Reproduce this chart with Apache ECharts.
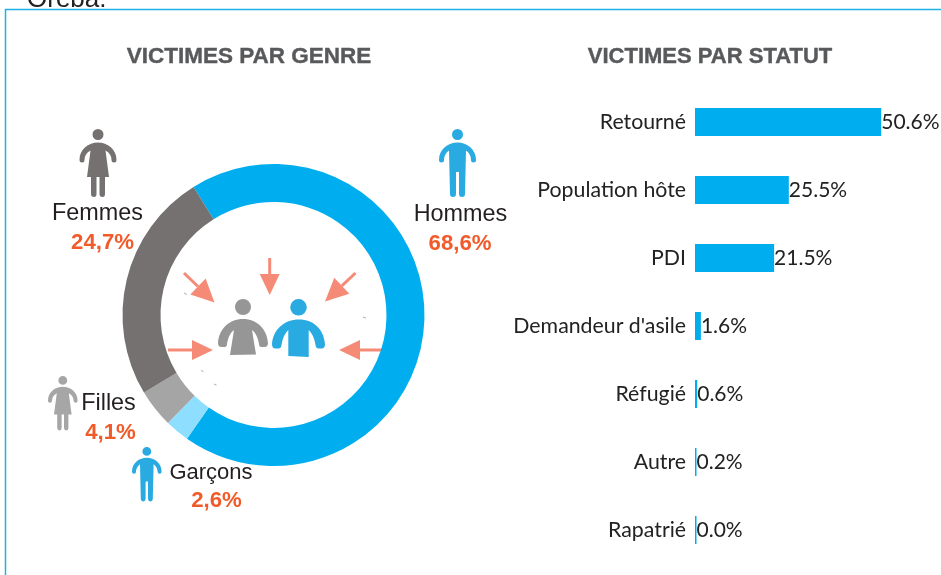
<!DOCTYPE html>
<html>
<head>
<meta charset="utf-8">
<script src="https://cdn.jsdelivr.net/npm/echarts@6/dist/echarts.min.js"></script>
<style>
  html, body { margin: 0; padding: 0; background: #fff; overflow: hidden; }
  #chart { width: 941px; height: 575px; }
</style>
</head>
<body>
<div id="chart"></div>
<script>
// repartition par genre, dans le sens de l'anneau
var genreNames = ['Hommes', 'Garçons', 'Filles', 'Femmes']
var genreValues = [68.6, 2.6, 4.1, 24.7]
var genreColors = ['#00AEEF', '#8EDFFF', '#A5A5A5', '#767171']

// repartition par statut
var statutNames = ['Retourné', 'Population hôte', 'PDI', "Demandeur d'asile", 'Réfugié', 'Autre', 'Rapatrié']
var statutValues = [50.6, 25.5, 21.5, 1.6, 0.6, 0.2, 0.0]

var SANS = '"Liberation Sans", Arial, sans-serif'
var ARROW = '#F58B76'

// pictos : 37x68 pour les petits, 50x56 et 53x58 pour ceux du centre
echarts.graphic.registerShape('manIcon', echarts.graphic.extendPath(
  'M18.5 0A5.5 5.5 0 1 1 18.5 11A5.5 5.5 0 1 1 18.5 0Z' +
  'M0 31C0 20 9 13.5 18.5 13.5C28 13.5 37 20 37 31Q37 33.5 34.5 33.5Q32 33.5 32 31C32 27 30 23.5 27 21.5' +
  'L26 65Q26 68 23 68Q20 68 20 65L20 43L17 43L17 65Q17 68 14 68Q11 68 11 65L10 21.5C7 23.5 5 27 5 31Q5 33.5 2.5 33.5Q0 33.5 0 31Z', {}))
echarts.graphic.registerShape('womanIcon', echarts.graphic.extendPath(
  'M18.5 0A5.5 5.5 0 1 1 18.5 11A5.5 5.5 0 1 1 18.5 0Z' +
  'M0 31C0 20 9 13.5 18.5 13.5C28 13.5 37 20 37 31Q37 33.5 34.5 33.5Q32 33.5 32 31C32 27 30 23.5 26 21.5' +
  'L29.5 48L25.5 48L25.5 65Q25.5 68 23 68Q20 68 20 65L20 48L17 48L17 65Q17 68 14.5 68Q11.5 68 11.5 65L11.5 48L7.5 48L11 21.5C7 23.5 5 27 5 31Q5 33.5 2.5 33.5Q0 33.5 0 31Z', {}))
echarts.graphic.registerShape('bigWoman', echarts.graphic.extendPath(
  'M25 0A8 8 0 1 1 25 16A8 8 0 1 1 25 0Z' +
  'M0 44C1 30 11 20 25 20C39 20 49 30 50 44Q50 48 46.5 48L43.5 48Q41 48 41 45C40 38 37 33 34 31' +
  'L38 55.5L12 56L16 31C13 33 10 38 9 45Q9 48 6.5 48L3.5 48Q0 48 0 44Z', {}))
echarts.graphic.registerShape('bigMan', echarts.graphic.extendPath(
  'M26.5 0A8.3 8.3 0 1 1 26.5 16.6A8.3 8.3 0 1 1 26.5 0Z' +
  'M0 45C1 31 12 20.5 27 20.5C42 20.5 52 31 53 45Q53 49.5 49.5 49.5L46.5 49.5Q44 49.5 43.5 46C42.5 39 40 34 36.7 31' +
  'L36.7 58L16.3 57L16.3 31C13 34 10.5 39 9.5 46Q9 49.5 6.5 49.5L3.5 49.5Q0 49.5 0 45Z', {}))

function person (type, x, y, scale, color) {
  return { type: type, x: x, y: y, scaleX: scale, scaleY: scale, style: { fill: color }, silent: true }
}

function arrow (x0, y0, x1, y1, headLen, headHalf) {
  var d = Math.sqrt((x1 - x0) * (x1 - x0) + (y1 - y0) * (y1 - y0))
  var ux = (x1 - x0) / d
  var uy = (y1 - y0) / d
  var bx = x1 - ux * headLen
  var by = y1 - uy * headLen
  return [
    { type: 'line', shape: { x1: x0, y1: y0, x2: bx, y2: by }, style: { stroke: ARROW, lineWidth: 3 }, silent: true },
    { type: 'polygon', shape: { points: [[x1, y1], [bx - uy * headHalf, by + ux * headHalf], [bx + uy * headHalf, by - ux * headHalf]] }, style: { fill: ARROW }, silent: true }
  ]
}

function text (str, x, y, size, color, bold) {
  return {
    type: 'text',
    x: x,
    y: y,
    silent: true,
    style: { text: str, fill: color, font: (bold ? 'bold ' : '') + size + 'px ' + SANS, textAlign: 'center', textVerticalAlign: 'middle' }
  }
}

function pct (i) {
  return genreValues[i].toFixed(1).replace('.', ',') + '%'
}

function tick (x1, y1, x2, y2) {
  return { type: 'line', shape: { x1: x1, y1: y1, x2: x2, y2: y2 }, style: { stroke: '#B0B0B0', lineWidth: 1 }, silent: true }
}

var graphics = [
  // cadre et ligne de texte coupee au dessus
  { type: 'polyline', shape: { points: [[5.5, 575], [5.5, 9.5], [941, 9.5]] }, style: { stroke: '#1FB0E6', fill: null, lineWidth: 1.5 }, silent: true },
  { type: 'text', x: 27, y: 13, silent: true, style: { text: 'Oreba.', fill: '#222', font: '26px ' + SANS, textAlign: 'left', textVerticalAlign: 'bottom' } },

  person('womanIcon', 79.5, 129, 1, '#767171'),
  person('manIcon', 439, 129, 1, '#29ABE2'),
  person('womanIcon', 48, 376, 0.8, '#A6A6A6'),
  person('manIcon', 132, 447, 0.8, '#29ABE2'),
  person('bigWoman', 218, 299, 1, '#969696'),
  person('bigMan', 272, 299, 1, '#29ABE2'),

  text(genreNames[3], 97.5, 214, 23.4, '#231F20'),
  text(pct(3), 102.5, 243, 22.2, '#F15A29', true),
  text(genreNames[0], 460.5, 215, 23.4, '#231F20'),
  text(pct(0), 460, 244, 22.2, '#F15A29', true),
  text(genreNames[2], 108.5, 404, 23.4, '#231F20'),
  text(pct(2), 110.5, 433, 22.2, '#F15A29', true),
  text(genreNames[1], 211, 473, 22, '#231F20'),
  text(pct(1), 216.5, 501, 22.2, '#F15A29', true),

  tick(184, 293, 187, 294.5),
  tick(363, 317, 366, 318),
  tick(201, 370.5, 203.5, 371.5),
  tick(214, 384, 216.5, 385)
]
graphics = graphics
  .concat(arrow(269.7, 258, 269.7, 295, 21, 10))
  .concat(arrow(184, 273, 214.5, 302.5, 23, 11))
  .concat(arrow(355.5, 273, 325, 301.5, 23, 11))
  .concat(arrow(168, 350, 213, 350, 21, 10))
  .concat(arrow(384, 350, 339, 350, 21, 10))

var chart = echarts.init(document.getElementById('chart'), null, { renderer: 'canvas' })
chart.setOption({
  animation: false,
  backgroundColor: '#fff',
  title: [
    { text: 'VICTIMES PAR GENRE', left: 244, top: 52, textAlign: 'center', textVerticalAlign: 'middle', textStyle: { fontFamily: SANS, fontWeight: 'bold', fontSize: 22.5, color: '#58595B', textBorderColor: '#58595B', textBorderWidth: 0.4 } },
    { text: 'VICTIMES PAR STATUT', left: 705, top: 52, textAlign: 'center', textVerticalAlign: 'middle', textStyle: { fontFamily: SANS, fontWeight: 'bold', fontSize: 22, color: '#58595B', textBorderColor: '#58595B', textBorderWidth: 0.4 } }
  ],
  grid: { left: 695, top: 88, width: 220.8, height: 476, containLabel: false },
  xAxis: { type: 'value', min: 0, max: 60, show: false },
  yAxis: {
    type: 'category',
    inverse: true,
    data: statutNames,
    axisLine: { show: false },
    axisTick: { show: false },
    axisLabel: { margin: 9, fontFamily: 'Lato', fontSize: 21.3, color: '#222', padding: [3, 0, 0, 0] }
  },
  series: [
    {
      type: 'pie',
      center: [273.5, 315],
      radius: [113, 151],
      startAngle: 122,
      clockwise: true,
      silent: true,
      label: { show: false },
      labelLine: { show: false },
      data: genreNames.map(function (n, i) {
        return { name: n, value: genreValues[i], itemStyle: { color: genreColors[i] } }
      })
    },
    {
      type: 'bar',
      barWidth: 28,
      barMinHeight: 1.5,
      silent: true,
      itemStyle: { color: '#00AEEF' },
      label: {
        show: true,
        position: 'right',
        distance: 0,
        fontFamily: 'Lato',
        fontSize: 21,
        color: '#222',
        formatter: function (p) { return p.value.toFixed(1) + '%' }
      },
      data: statutValues
    }
  ],
  graphic: graphics
})
</script>
</body>
</html>
